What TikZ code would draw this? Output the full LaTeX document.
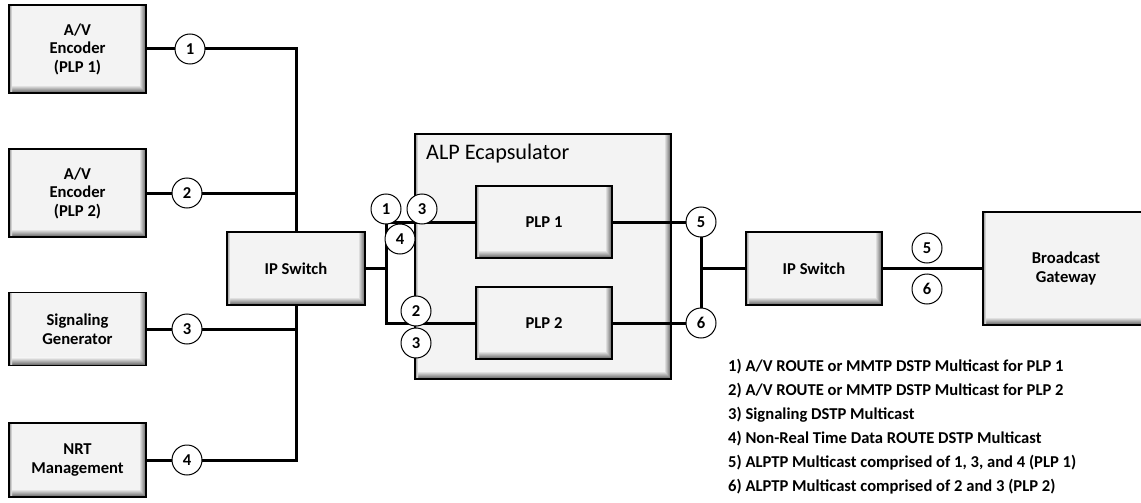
\documentclass[tikz,border=0pt]{standalone}
\usepackage{fontspec}
\setmainfont{Carlito}
\usetikzlibrary{calc}
\pgfdeclarelayer{bottom}
\pgfdeclarelayer{lines}
\pgfsetlayers{bottom,lines,main}
\definecolor{boxfill}{HTML}{F3F3F3}
\definecolor{bevdark}{HTML}{5A5A5A}
\tikzset{
  bevel/.style={draw=black, line width=1.6pt, fill=boxfill, inner sep=0pt, align=center,
    font=\bfseries\fontsize{16.6}{18.5}\selectfont,
    path picture={
      \coordinate (pp-sw) at (path picture bounding box.south west);
      \coordinate (pp-ne) at (path picture bounding box.north east);
      \coordinate (pp-se) at (path picture bounding box.south east);
      \coordinate (pp-nw) at (path picture bounding box.north west);
      \shade[left color=boxfill, right color=bevdark] ([xshift=-7pt]pp-se) rectangle (pp-ne);
      \shade[top color=boxfill, bottom color=bevdark] (pp-sw) -- (pp-se) -- ([xshift=-7pt,yshift=8pt]pp-se) -- ([xshift=3pt,yshift=8pt]pp-sw) -- cycle;
      \shade[left color=black!45, right color=boxfill] (pp-sw) rectangle ([xshift=3pt]pp-nw);
    }},
  conn/.style={line width=3pt, line cap=rect},
  num/.style={circle, draw=black, line width=1pt, fill=white, minimum size=30pt, inner sep=0pt,
    font=\bfseries\fontsize{16.6}{18}\selectfont},
  legend/.style={anchor=west, inner sep=0pt, font=\bfseries\fontsize{16.6}{18}\selectfont},
}
\begin{document}
\begin{tikzpicture}[x=1pt,y=-1pt]
\useasboundingbox (0,0) rectangle (1141,503);
\begin{pgfonlayer}{bottom}
\clip (0,0) rectangle (1141,503);
\node[bevel, minimum width=256pt, minimum height=245pt, line width=1.8pt] (alp) at (543,256.5) {};
\end{pgfonlayer}
\node[anchor=west, inner sep=0pt, font=\fontsize{22.2}{26}\selectfont] (alptitle) at (426,154) {ALP Ecapsulator};

\node[bevel, minimum width=137pt, minimum height=88pt] (enc1) at (77.5,49) {A/V\\Encoder\\(PLP 1)};
\node[bevel, minimum width=137pt, minimum height=88pt] (enc2) at (77.5,193) {A/V\\Encoder\\(PLP 2)};
\node[bevel, minimum width=137pt, minimum height=73pt] (sig) at (77.5,329) {Signaling\\Generator};
\node[bevel, minimum width=137pt, minimum height=74pt] (nrt) at (77.5,460) {NRT\\Management};
\node[bevel, minimum width=138pt, minimum height=73pt] (ipsw1) at (296,268.5) {IP Switch};
\node[bevel, minimum width=136pt, minimum height=72pt] (plp1) at (544,222) {PLP 1};
\node[bevel, minimum width=136pt, minimum height=72pt] (plp2) at (544,323) {PLP 2};
\node[bevel, minimum width=136pt, minimum height=73pt] (ipsw2) at (814,268.5) {IP Switch};
\begin{scope}
\clip (0,0) rectangle (1141,503);
\node[bevel, minimum width=166pt, minimum height=113pt] (bg) at (1066,268.5) {Broadcast\\Gateway};
\end{scope}

\node[num] (c1) at (190,49) {1};
\node[num] (c2) at (187,193) {2};
\node[num] (c3) at (187,329) {3};
\node[num] (c4) at (187,460) {4};
\node[num] (a1) at (386,209) {1};
\node[num] (a3) at (422,209) {3};
\node[num] (a4) at (400,239) {4};
\node[num] (a2) at (416,311) {2};
\node[num] (a3b) at (416,343) {3};
\node[num] (c5) at (701,222) {5};
\node[num] (c6) at (701,323) {6};
\node[num] (g5) at (927,248) {5};
\node[num] (g6) at (927,289) {6};

\coordinate (j1) at (386,268.5);
\coordinate (j1t) at (386,222);
\coordinate (j1b) at (386,323);
\coordinate (j2) at (701,268.5);

\begin{pgfonlayer}{lines}
\draw[conn] (enc1.east) -| (ipsw1.north);
\draw[conn] (enc2.east) -- (enc2.east -| ipsw1.north);
\draw[conn] (sig.east) -| (ipsw1.south);
\draw[conn] (nrt.east) -| (ipsw1.south);
\draw[conn] (ipsw1.east) -- (j1);
\draw[conn] (j1t) -- (j1b);
\draw[conn] (j1t) -- (plp1.west);
\draw[conn] (j1b) -- (plp2.west);
\draw[conn] (plp1.east) -- (c5);
\draw[conn] (plp2.east) -- (c6);
\draw[conn] (c5) -- (c6);
\draw[conn] (j2) -- (ipsw2.west);
\draw[conn] (ipsw2.east) -- (bg.west);
\end{pgfonlayer}

\node[legend] (l1) at (728,367) {1) A/V ROUTE or MMTP DSTP Multicast for PLP 1};
\node[legend] (l2) at (728,391) {2) A/V ROUTE or MMTP DSTP Multicast for PLP 2};
\node[legend] (l3) at (728,415) {3) Signaling DSTP Multicast};
\node[legend] (l4) at (728,439) {4) Non-Real Time Data ROUTE DSTP Multicast};
\node[legend] (l5) at (728,463) {5) ALPTP Multicast comprised of 1, 3, and 4 (PLP 1)};
\node[legend] (l6) at (728,487) {6) ALPTP Multicast comprised of 2 and 3 (PLP 2)};
\end{tikzpicture}
\end{document}
